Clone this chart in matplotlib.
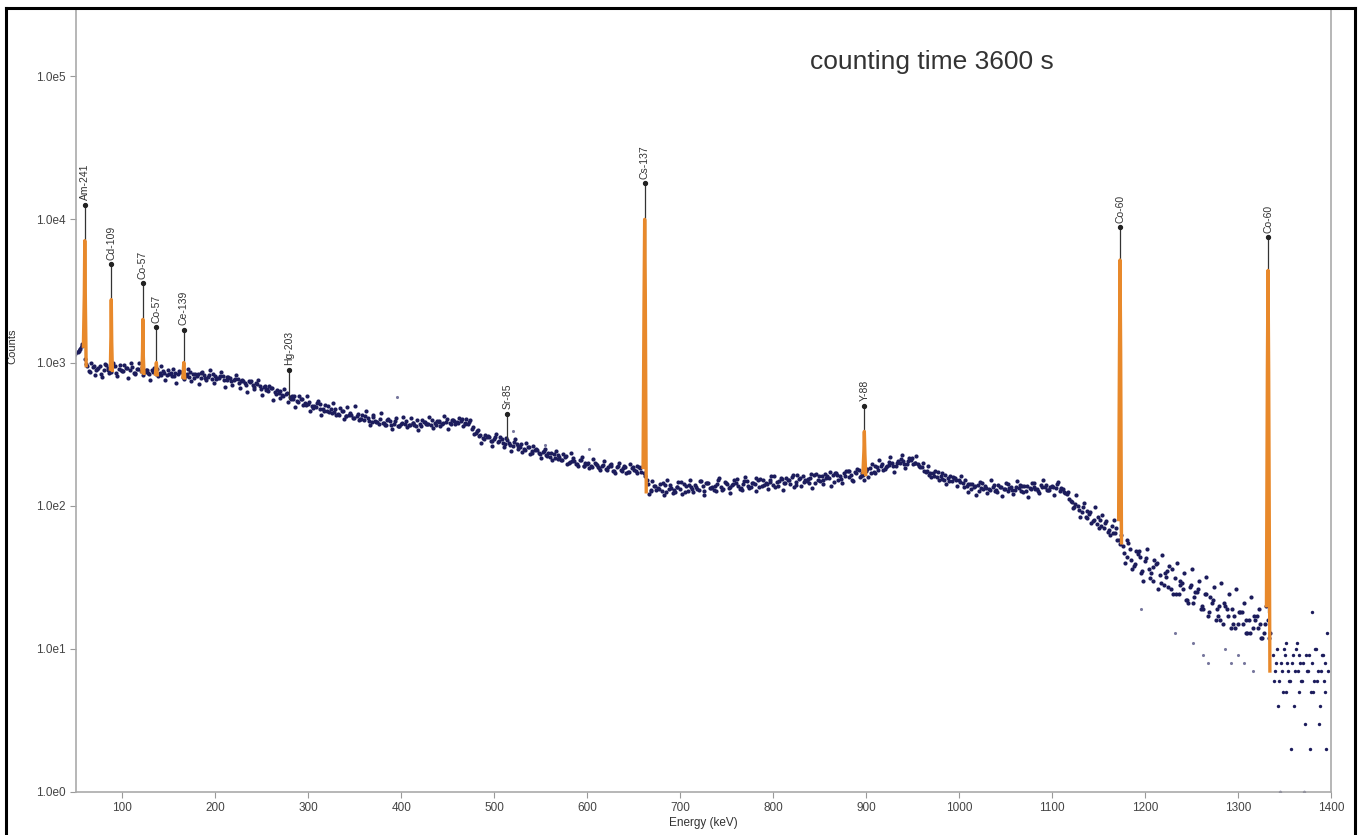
import numpy as np
import matplotlib.pyplot as plt
from matplotlib.lines import Line2D

plt.rcParams['font.family'] = ['Liberation Sans', 'DejaVu Sans']

# continuum, channels every 4 keV starting at 52 keV
counts_a = [1180, 1300, 1050,
            870, 930, 890, 950, 880, 910, 860, 940, 900, 870, 920, 880, 850, 900, 870,
            860, 840, 880, 830, 850, 870, 820, 845, 800, 830, 860, 810, 790, 825, 800, 780, 815, 790, 770, 800,
            780, 800, 760, 775, 750, 770, 740, 720, 745, 700, 715, 690, 670, 650, 660, 625, 610, 590, 600, 570,
            555, 540, 560, 525, 510,
            500, 490, 515, 475, 460, 470, 450, 440, 455, 425, 430, 410, 420, 400, 395, 410, 385, 390, 375, 380,
            365, 390, 370, 360, 375,
            370, 365, 380, 360, 375, 385, 370, 365, 380, 390, 375, 385, 380, 395, 385, 390, 380,
            370, 345, 320, 305, 295, 300, 285, 290,
            280, 290, 270, 275, 262, 270, 255, 248, 258, 240, 245, 232, 238, 225, 218, 228, 212, 208, 218, 200,
            205, 196, 210, 190, 195, 188, 200, 185, 190, 180, 192, 176, 185, 178, 188, 172, 182, 176, 185,
            190,
            150, 128, 138, 132, 126, 140, 130, 122, 136, 131, 142, 127, 135, 140, 129, 137, 145, 133, 128, 141,
            136, 146, 132, 139, 144, 130, 142, 148, 136, 141, 150, 138, 145, 152, 140, 147, 155, 143, 150, 158,
            146, 153, 160, 149, 157, 163, 152, 160, 167, 156, 164, 170, 160, 168, 175, 163, 172, 178, 168,
            175, 182, 172, 185, 190, 180, 192, 198, 188, 200, 205, 196, 208, 200, 195, 185,
            172, 165, 170, 158, 162, 152, 156, 148, 155, 150,
            145, 138, 142, 135, 140, 132, 137, 130, 136, 128, 134, 131, 127, 135, 129, 133, 138, 126, 132, 136,
            130, 140, 134, 128, 137, 132, 126, 130,
            120, 108, 98, 100, 90, 84, 88, 78, 74, 80, 70, 66, 72, 64,
            58, 52, 44, 50, 38, 46, 34, 41, 36, 30, 39, 33, 28, 35, 26, 31, 24, 29, 22, 27, 21, 25, 19, 24, 17,
            21, 16, 20, 15, 19, 14, 17, 15, 18, 13, 16, 14, 17, 15, 13, 16]

# neighbouring channels, starting at 54 keV
counts_b = [1240, 1320, 940,
            985, 815, 920, 790, 960, 850, 1000, 805, 885, 965, 780, 930, 830, 985, 815,
            886, 753, 912, 807, 946, 757, 830, 901, 722, 860, 765, 901, 743, 836, 711, 861, 761, 893, 715, 782,
            853, 677, 798, 702, 817, 666, 742, 623, 746, 651, 754, 596, 644, 689, 545, 640, 561, 651, 528, 585,
            490, 583, 506, 585, 459,
            500, 539, 430, 508, 449, 525, 430, 480, 406, 487, 428, 497, 395, 429, 461, 367, 433, 382, 446, 364,
            406, 342, 410, 359, 417,
            352, 410, 365, 340, 398, 375, 415, 350, 388, 362, 420, 345, 395, 372, 412, 358, 400,
            395, 318, 340, 272, 310, 300, 262, 318,
            300, 255, 288, 242, 292, 262, 238, 275, 228, 262, 244, 215, 250, 232, 208, 240, 218, 228, 196, 232,
            205, 190, 220, 198, 183, 212, 192, 178, 204, 186, 196, 170, 200, 182, 168, 195, 178, 190, 172,
            160,
            120, 148, 128, 142, 118, 150, 133, 125, 146, 121, 138, 152, 124, 131, 149, 119, 143, 135, 127, 155,
            130, 141, 122, 150, 137, 128, 158, 132, 145, 126, 153, 139, 131, 160, 136, 148, 129, 157, 142, 134,
            163, 138, 152, 144, 133, 166, 149, 141, 160, 137, 170, 152, 145, 176, 158, 149, 181, 160, 152,
            158, 196, 170, 210, 178, 188, 220, 172, 205, 226, 184, 214, 195, 222, 186, 176,
            190, 158, 176, 150, 170, 142, 162, 157, 138, 160,
            150, 124, 141, 118, 146, 130, 122, 152, 127, 139, 116, 145, 132, 121, 149, 126, 137, 115, 143, 130,
            123, 151, 128, 136, 119, 147, 133, 122,
            112, 96, 118, 84, 104, 92, 76, 98, 70, 86, 78, 62, 80, 58,
            62, 40, 55, 36, 48, 44, 30, 50, 34, 42, 26, 45, 32, 38, 24, 40, 28, 34, 21, 36, 25, 30, 19, 32, 23,
            27, 17, 29, 20, 24, 15, 26, 18, 21, 13, 23, 16, 19, 12, 20, 13]

# neighbouring channels, starting at 53 keV
counts_c = [1210, 1350, 980,
            860, 945, 905, 830, 975, 880, 925, 845, 960, 870, 915, 985, 850, 900, 930,
            890, 825, 865, 905, 815, 850, 880, 800, 845, 870, 790, 835, 860, 785, 825, 850, 775, 815, 835, 765,
            805, 755, 790, 740, 770, 725, 750, 700, 735, 680, 705, 655, 690, 630, 660, 605, 630, 585, 610, 560,
            585, 530, 555, 505, 530,
            480, 520, 470, 455, 495, 445, 470, 430, 462, 420, 445, 410, 435, 400, 425, 392, 415, 385, 402, 378,
            395, 368, 388, 362, 380,
            390, 368, 378, 395, 362, 384, 372, 398, 366, 386, 376, 402, 370, 392, 380, 405, 374,
            382, 355, 332, 312, 290, 305, 282, 300,
            285, 275, 295, 265, 280, 250, 268, 245, 255, 235, 250, 228, 242, 222, 235, 215, 225, 210, 222, 202,
            214, 195, 208, 190, 200, 186, 196, 182, 192, 178, 188, 176, 190, 174, 185, 172, 186, 170, 182,
            170,
            142, 126, 137, 131, 145, 124, 139, 128, 134, 147, 125, 140, 130, 136, 149, 127, 143, 133, 138, 151,
            129, 145, 135, 141, 154, 132, 148, 138, 144, 157, 134, 151, 141, 147, 160, 137, 154, 144, 150, 164,
            140, 157, 147, 153, 167, 143, 160, 150, 157, 171, 147, 164, 154, 161, 175, 151, 168, 158, 165,
            180, 170, 188, 178, 196, 185, 202, 190, 198, 212, 194, 205, 215, 200, 190, 198,
            176, 168, 162, 172, 154, 164, 148, 158, 152, 146,
            136, 142, 130, 138, 127, 144, 133, 129, 140, 125, 136, 131, 142, 128, 134, 139, 124, 137, 131, 143,
            127, 135, 140, 129, 136, 142, 131, 125,
            125, 106, 102, 94, 98, 82, 90, 80, 84, 72, 76, 68, 64, 70,
            54, 47, 58, 42, 39, 48, 35, 43, 31, 37, 40, 29, 34, 27, 36, 24, 30, 26, 22, 28, 23, 26, 20, 24, 18,
            22, 19, 16, 21, 17, 19, 14, 18, 15, 16, 13, 17, 14, 12, 15, 12]

# low count tail above the last Co-60 line
tail_a = [9, 7, 10, 6, 8, 5, 9, 11, 7, 6, 8, 4, 10, 7, 9, 6, 8, 3, 7, 9, 5, 8, 6, 10, 7, 4, 9, 6, 8, 13]
tail_b = [6, 8, 4, 1, 7, 10, 5, 8, 6, 2, 9, 7, 11, 5, 8, 6, 1, 9, 7, 2, 18, 5, 10, 6, 3, 7, 9, 5, 2, 7]

# outliers scattered away from the band
outlier_e = [1196, 1232, 1252, 1262, 1268, 1286, 1292, 1300, 1306, 1316, 395, 602, 520, 555]
outlier_c = [19, 13, 11, 9, 8, 10, 8, 9, 8, 7, 570, 250, 330, 265]

# photopeaks (orange)
peak_e = [[58, 59, 59.5, 60.2, 61],
          [87, 87.6, 88, 88.5, 89.2],
          [121, 121.6, 122, 122.5, 123.2],
          [135.5, 136.5, 137.5],
          [165, 166, 167],
          [660, 661, 661.7, 662.4, 663.4],
          [896.5, 897.5, 898, 898.6, 899.5],
          [1171.5, 1172.4, 1173, 1173.7, 1174.6],
          [1330.5, 1331.5, 1332.2, 1332.9, 1334.2]]
peak_c = [[1300, 3000, 7100, 2500, 950],
          [900, 1500, 2750, 1400, 880],
          [860, 1200, 2000, 1100, 840],
          [830, 1000, 820],
          [790, 1000, 780],
          [185, 2500, 10000, 3000, 125],
          [170, 240, 330, 230, 165],
          [80, 1200, 5200, 1200, 55],
          [20, 900, 4400, 900, 7]]

# nuclide identification marks
nuclides = ['Am-241', 'Cd-109', 'Co-57', 'Co-57', 'Ce-139', 'Hg-203', 'Sr-85', 'Cs-137', 'Y-88', 'Co-60', 'Co-60']
nuc_energy = [59.5, 88, 122, 136.5, 165.9, 279.2, 514, 661.7, 898, 1173.2, 1332.5]
nuc_mark = [12700, 4840, 3570, 1760, 1700, 893, 440, 17850, 500, 8790, 7480]
nuc_base = [1100, 900, 860, 840, 790, 560, 290, 190, 175, 65, 18]

ytick_vals = [1, 10, 100, 1000, 10000, 100000]
ytick_labels = ['1.0e0', '1.0e1', '1.0e2', '1.0e3', '1.0e4', '1.0e5']
xtick_vals = [100, 200, 300, 400, 500, 600, 700, 800, 900, 1000, 1100, 1200, 1300, 1400]

energy_a = 52 + 4 * np.arange(len(counts_a))
energy_b = 54 + 4 * np.arange(len(counts_b))
energy_c = 53 + 4 * np.arange(len(counts_c))
tail_ea = 1338 + 2 * np.arange(len(tail_a))
tail_eb = 1339 + 2 * np.arange(len(tail_b))

fig = plt.figure(figsize=(13.61, 8.35), dpi=100)
ax = fig.add_axes([0.0558, 0.0515, 0.9222, 0.9365])

navy = '#1c1c5c'
for e, c in [(energy_a, counts_a), (energy_b, counts_b), (energy_c, counts_c)]:
    ax.scatter(e, c, s=9, color=navy, lw=0, zorder=2)
ax.scatter(tail_ea, tail_a, s=6, color=navy, lw=0, zorder=2)
ax.scatter(tail_eb, tail_b, s=6, color=navy, lw=0, zorder=2)
ax.scatter(outlier_e, outlier_c, s=5, color=navy, lw=0, alpha=0.6, zorder=2)
# rising edge at the very left
ax.plot([50, 52, 54, 56], [1120, 1180, 1240, 1300], color=navy, lw=1.5, zorder=2)

for e, base, top in zip(nuc_energy, nuc_base, nuc_mark):
    ax.plot([e, e], [base, top], color='#333333', lw=0.9, zorder=3)

for pe, pc in zip(peak_e, peak_c):
    ax.plot(pe, pc, color='#e8892b', lw=2.4, zorder=4)

for name, e, top in zip(nuclides, nuc_energy, nuc_mark):
    ax.plot(e, top, marker='o', ms=2.8, color='#222222', zorder=5)
    ax.annotate(name, (e, top), xytext=(0, 3), textcoords='offset points',
                rotation=90, ha='center', va='bottom', fontsize=7.5, color='#333333')

ax.set_yscale('log')
ax.set_xlim(50, 1400)
ax.set_ylim(1, 2.9e5)
ax.set_yticks(ytick_vals)
ax.set_yticklabels(ytick_labels)
ax.yaxis.set_minor_locator(plt.NullLocator())
ax.set_xticks(xtick_vals)
ax.tick_params(axis='both', labelsize=8.5, labelcolor='#444444', color='#999999', length=4, width=0.8)

for side in ['left', 'bottom', 'right']:
    ax.spines[side].set_color('#aaaaaa')
    ax.spines[side].set_linewidth(1.2)
ax.spines['top'].set_visible(False)

ax.set_xlabel('Energy (keV)', fontsize=8.5, color='#333333', labelpad=2)
ax.set_ylabel('Counts', fontsize=8, color='#333333')
ax.yaxis.set_label_coords(-0.047, 0.57)

ax.text(0.682, 0.933, 'counting time 3600 s', transform=ax.transAxes, ha='center', va='center',
        fontsize=19, color='#333333')

# black frame around the picture
for xs, ys in [([0.0044, 0.0044], [0.0, 0.990]), ([0.9956, 0.9956], [0.0, 0.990]),
               ([0.0044, 0.9956], [0.990, 0.990])]:
    fig.add_artist(Line2D(xs, ys, color='black', lw=2.2, transform=fig.transFigure))

fig.savefig('out.png', dpi=100)
